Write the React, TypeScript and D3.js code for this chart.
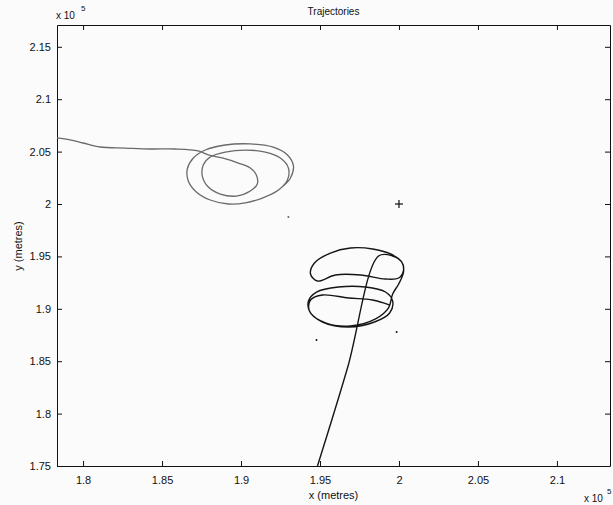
import React, { useEffect, useRef } from "react";
import * as d3 from "d3";

// axis ticks (metres)
const xTicks = [180000, 185000, 190000, 195000, 200000, 205000, 210000];
const yTicks = [175000, 180000, 185000, 190000, 195000, 200000, 205000, 210000, 215000];

// trajectory 1 (grey) - comes in from the west and circles
const grayX = [178350, 179170, 180000, 181080, 182660, 184250, 185830, 187290,
  187930, 188810, 189830, 190590, 190970, 191030, 190590, 189700, 188690, 187930,
  187550, 187610, 188050, 189000, 190270, 191540, 192490, 193000, 192940, 192370,
  191350, 190270, 189200, 188050, 187170, 186660, 186600, 186980, 187740, 189000,
  190590, 191990, 192940, 193320, 193130, 192680];
const grayY = [206300, 206110, 205820, 205440, 205340, 205250, 205250, 205060,
  204680, 204390, 203910, 203440, 202770, 201910, 201240, 200760, 200950, 201620,
  202670, 203720, 204490, 204960, 205150, 204960, 204390, 203440, 202290, 201340,
  200570, 200100, 200000, 200380, 201150, 202200, 203340, 204390, 205150, 205630,
  205730, 205440, 204680, 203630, 202480, 201720];

// trajectory 2 (black) - comes in from the south and circles
const darkX = [194840, 196740, 198710, 199600, 200170, 200290, 199980, 199150,
  197570, 195980, 194840, 194400, 194650, 195660, 196930, 198330, 199470, 200170,
  200290, 199980, 199600, 199340, 198520, 196930, 195350, 194400, 194270, 194780,
  196170, 197880, 199150, 199600, 199410, 198450, 196810, 195160, 194330, 194400,
  195160, 196810, 198330, 199410];
const darkY = [175000, 184350, 195040, 195040, 194470, 193700, 192940, 192840,
  193230, 193230, 192650, 193320, 194370, 195320, 195800, 195710, 195230, 194470,
  193510, 192370, 191410, 190080, 189030, 188360, 188650, 189600, 190740, 191600,
  192080, 192080, 191600, 190740, 189600, 188740, 188260, 188740, 189790, 190840,
  191320, 191030, 190840, 190360];

// stray points
const dotX = [193000, 194780, 199850];
const dotY = [198760, 187020, 187790];
const dotColor = ["#666", "#111", "#111"];

// target
const targetX = [200000];
const targetY = [200000];

const W = 613, H = 505;
const left = 57, right = 610, top = 25, bottom = 466;

export default function App() {
  const ref = useRef<SVGSVGElement>(null);

  useEffect(() => {
    document.body.style.margin = "0";
    const svg = d3.select(ref.current);
    svg.selectAll("*").remove();

    const x = d3.scaleLinear().domain([178350, 213360]).range([left, right]);
    const y = d3.scaleLinear().domain([175000, 217080]).range([bottom, top]);
    const fmt = (v: number) => String(+(v / 1e5).toFixed(2));

    const font = "'Liberation Sans', Arial, sans-serif";

    // axes, MATLAB style: ticks inside, box on
    const gx = svg.append("g").attr("transform", `translate(0,${bottom})`)
      .call(d3.axisBottom(x).tickValues(xTicks).tickSize(-5).tickSizeOuter(0).tickPadding(10).tickFormat(fmt as any));
    const gy = svg.append("g").attr("transform", `translate(${left},0)`)
      .call(d3.axisLeft(y).tickValues(yTicks).tickSize(-5).tickSizeOuter(0).tickPadding(6).tickFormat(fmt as any));
    svg.append("g").attr("transform", `translate(0,${top})`)
      .call(d3.axisTop(x).tickValues(xTicks).tickSize(-5).tickSizeOuter(0).tickFormat(() => ""));
    svg.append("g").attr("transform", `translate(${right},0)`)
      .call(d3.axisRight(y).tickValues(yTicks).tickSize(-5).tickSizeOuter(0).tickFormat(() => ""));

    svg.selectAll(".domain, .tick line").attr("stroke", "#111");
    [gx, gy].forEach(g => g.selectAll("text").attr("font-family", font).attr("font-size", 11).attr("fill", "#111"));

    const line = d3.line<number>().curve(d3.curveCatmullRom.alpha(0.5));

    svg.append("path")
      .attr("d", line.x((_, i) => x(grayX[i])).y((_, i) => y(grayY[i]))(grayX))
      .attr("fill", "none").attr("stroke", "#6a6a6a").attr("stroke-width", 1.3);

    svg.append("path")
      .attr("d", line.x((_, i) => x(darkX[i])).y((_, i) => y(darkY[i]))(darkX))
      .attr("fill", "none").attr("stroke", "#151515").attr("stroke-width", 1.4);

    svg.selectAll(".dot").data(dotX).enter().append("circle")
      .attr("cx", d => x(d)).attr("cy", (_, i) => y(dotY[i])).attr("r", 1)
      .attr("fill", (_, i) => dotColor[i]);

    const plus = svg.selectAll(".plus").data(targetX).enter().append("g")
      .attr("transform", (d, i) => `translate(${x(d)},${y(targetY[i])})`);
    plus.append("line").attr("x1", -4).attr("x2", 4).attr("stroke", "#111").attr("stroke-width", 1.2);
    plus.append("line").attr("y1", -4).attr("y2", 4).attr("stroke", "#111").attr("stroke-width", 1.2);

    const cx = (left + right) / 2;
    const text = (tx: number, ty: number, s: string, size: number, anchor = "middle") =>
      svg.append("text").attr("x", tx).attr("y", ty).attr("text-anchor", anchor)
        .attr("font-family", font).attr("font-size", size).attr("fill", "#111").text(s);

    text(cx, 15, "Trajectories", 10);
    text(cx, 499, "x (metres)", 11);
    text(0, 0, "y (metres)", 11).attr("transform", "translate(22,246) rotate(-90)");

    // exponent labels
    text(56, 19, "x 10", 10, "start");
    text(81, 11, "5", 8, "start");
    text(584, 502, "x 10", 10, "start");
    text(607, 494, "5", 8, "start");
  }, []);

  return <svg ref={ref} width={W} height={H} style={{ display: "block", background: "#fbfbfb" }} />;
}
